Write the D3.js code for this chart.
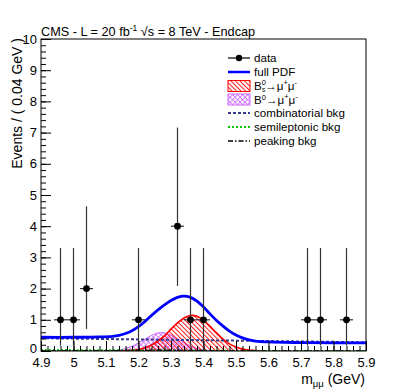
<!DOCTYPE html>
<html><head><meta charset="utf-8">
<script src="https://cdn.jsdelivr.net/npm/d3@7"></script>
<style>
html,body{margin:0;padding:0;background:#fff;}
text{font-family:"Liberation Sans",Arial,Helvetica,sans-serif;fill:#000;}
</style></head>
<body><svg id="c" width="407" height="391"></svg>
<script>
// ---- data ----
const dataMass = [4.96, 5.00, 5.04, 5.20, 5.32, 5.36, 5.40, 5.72, 5.76, 5.84];
const dataCount = [1, 1, 2, 1, 4, 1, 1, 1, 1, 1];
const dataErrLow = [0.827, 0.827, 1.292, 0.827, 1.914, 0.827, 0.827, 0.827, 0.827, 0.827];
const dataErrHigh = [2.3, 2.3, 2.638, 2.3, 3.162, 2.3, 2.3, 2.3, 2.3, 2.3];
const binHalfWidth = 0.02;

const fullMass = [4.90,5.00,5.08,5.12,5.14,5.16,5.18,5.20,5.22,5.24,5.26,5.28,5.30,5.32,5.34,5.36,5.38,5.40,5.42,5.44,5.46,5.48,5.50,5.52,5.54,5.56,5.60,5.70,5.80,5.90];
const fullVal  = [0.44,0.44,0.45,0.47,0.50,0.56,0.65,0.78,0.95,1.14,1.32,1.48,1.62,1.72,1.76,1.72,1.60,1.41,1.19,0.98,0.80,0.64,0.51,0.42,0.36,0.32,0.29,0.27,0.26,0.26];

const bsMass = [5.14,5.16,5.18,5.20,5.22,5.24,5.26,5.28,5.30,5.32,5.34,5.36,5.38,5.40,5.42,5.44,5.46,5.48,5.50,5.52,5.54,5.56,5.58];
const bsVal  = [0.00,0.01,0.02,0.05,0.10,0.19,0.32,0.49,0.70,0.90,1.06,1.14,1.11,0.98,0.79,0.58,0.38,0.23,0.13,0.06,0.03,0.01,0.00];

const bdMass = [5.10,5.12,5.14,5.16,5.18,5.20,5.22,5.24,5.26,5.28,5.30,5.32,5.34,5.36,5.38,5.40,5.42,5.44,5.46];
const bdVal  = [0.00,0.01,0.03,0.08,0.15,0.26,0.38,0.50,0.58,0.58,0.51,0.40,0.27,0.16,0.08,0.04,0.015,0.005,0.00];

const combMass = [4.90, 5.90];
const combVal  = [0.41, 0.28];
const semiMass = [4.90, 5.10, 5.30, 5.50, 5.90];
const semiVal  = [0.03, 0.02, 0.01, 0.00, 0.00];
const peakMass = [4.90, 5.15, 5.25, 5.30, 5.40, 5.50, 5.90];
const peakVal  = [0.00, 0.01, 0.02, 0.02, 0.01, 0.00, 0.00];

const xTickValues = [4.9,5.0,5.1,5.2,5.3,5.4,5.5,5.6,5.7,5.8,5.9];
const xTickLabels = ["4.9","5","5.1","5.2","5.3","5.4","5.5","5.6","5.7","5.8","5.9"];
const yTickValues = [0,1,2,3,4,5,6,7,8,9,10];
const yTickLabels = ["0","1","2","3","4","5","6","7","8","9","10"];

// ---- layout ----
const L = 41, R = 366, T = 39, B = 351;
const svg = d3.select("#c");
const x = d3.scaleLinear().domain([4.9, 5.9]).range([L, R]);
const y = d3.scaleLinear().domain([0, 10]).range([B, T]);

const defs = svg.append("defs");
defs.append("clipPath").attr("id","clip").append("rect")
  .attr("x",L).attr("y",T).attr("width",R-L).attr("height",B-T);
const pr = defs.append("pattern").attr("id","hatchRed").attr("patternUnits","userSpaceOnUse")
  .attr("width",3.2).attr("height",6).attr("patternTransform","rotate(-45)");
pr.append("line").attr("x1",0.5).attr("y1",0).attr("x2",0.5).attr("y2",6)
  .attr("stroke","#ff0000").attr("stroke-width",0.9);
const pm = defs.append("pattern").attr("id","hatchMag").attr("patternUnits","userSpaceOnUse")
  .attr("width",3.5).attr("height",3.5).attr("patternTransform","rotate(45)");
pm.append("line").attr("x1",0.5).attr("y1",0).attr("x2",0.5).attr("y2",3.5)
  .attr("stroke","#cc66ff").attr("stroke-width",0.8);
pm.append("line").attr("x1",0).attr("y1",0.5).attr("x2",3.5).attr("y2",0.5)
  .attr("stroke","#cc66ff").attr("stroke-width",0.8);

svg.append("rect").attr("width",407).attr("height",391).attr("fill","#fff");

const plot = svg.append("g").attr("clip-path","url(#clip)");
const zip = (a,b) => a.map((m,i)=>[m,b[i]]);
const line = d3.line().x(d=>x(d[0])).y(d=>y(d[1])).curve(d3.curveCatmullRom);
const area = d3.area().x(d=>x(d[0])).y0(y(0)).y1(d=>y(d[1])).curve(d3.curveCatmullRom);

// Bd component
plot.append("path").datum(zip(bdMass,bdVal)).attr("d",area).attr("fill","url(#hatchMag)");
plot.append("path").datum(zip(bdMass,bdVal)).attr("d",line).attr("fill","none")
  .attr("stroke","#cc66ff").attr("stroke-width",1);
// Bs component
plot.append("path").datum(zip(bsMass,bsVal)).attr("d",area).attr("fill","url(#hatchRed)");
plot.append("path").datum(zip(bsMass,bsVal)).attr("d",line).attr("fill","none")
  .attr("stroke","#ff0000").attr("stroke-width",1.6);
// backgrounds
plot.append("path").datum(zip(combMass,combVal)).attr("d",line).attr("fill","none")
  .attr("stroke","#3a3a8c").attr("stroke-width",2).attr("stroke-dasharray","3,2");
plot.append("path").datum(zip(semiMass,semiVal)).attr("d",line).attr("fill","none")
  .attr("stroke","#00cc00").attr("stroke-width",2.2).attr("stroke-dasharray","2,2");
plot.append("path").datum(zip(peakMass,peakVal)).attr("d",line).attr("fill","none")
  .attr("stroke","#000").attr("stroke-width",1.6).attr("stroke-dasharray","5,2,1.5,2");
// full PDF
plot.append("path").datum(zip(fullMass,fullVal)).attr("d",line).attr("fill","none")
  .attr("stroke","#0000ff").attr("stroke-width",2.8);

// data
const dg = svg.append("g");
dataMass.forEach((m,i)=>{
  const v = dataCount[i];
  dg.append("line").attr("x1",x(m)).attr("x2",x(m))
    .attr("y1",y(v-dataErrLow[i])).attr("y2",y(v+dataErrHigh[i]))
    .attr("stroke","#333").attr("stroke-width",1.2);
  dg.append("line").attr("x1",x(m-binHalfWidth)).attr("x2",x(m+binHalfWidth))
    .attr("y1",y(v)).attr("y2",y(v)).attr("stroke","#333").attr("stroke-width",1.2);
  dg.append("circle").attr("cx",x(m)).attr("cy",y(v)).attr("r",3.4).attr("fill","#000");
});

// axes
svg.append("g").attr("transform",`translate(0,${B})`)
  .call(d3.axisBottom(x).tickValues(xTickValues).tickFormat((d,i)=>xTickLabels[i])
    .tickSize(-10).tickPadding(7));
svg.append("g").attr("transform",`translate(0,${B})`)
  .call(d3.axisBottom(x).tickValues(d3.range(0,51).map(i=>4.9+i*0.02)).tickFormat("").tickSize(-5));
svg.append("g").attr("transform",`translate(${L},0)`)
  .call(d3.axisLeft(y).tickValues(yTickValues).tickFormat((d,i)=>yTickLabels[i])
    .tickSize(-10).tickPadding(4));
svg.append("g").attr("transform",`translate(${L},0)`)
  .call(d3.axisLeft(y).tickValues(d3.range(0,51).map(i=>i*0.2)).tickFormat("").tickSize(-5));
svg.selectAll(".domain").remove();
svg.selectAll(".tick line").attr("stroke","#000").attr("stroke-width",1);
svg.selectAll(".tick text").attr("font-size",13).attr("font-family","Liberation Sans, Arial, sans-serif");
svg.selectAll(".tick text").filter(function(){ return this.textContent === "0"; }).attr("dy","0.1em");

svg.append("rect").attr("x",L).attr("y",T).attr("width",R-L).attr("height",B-T)
  .attr("fill","none").attr("stroke","#000").attr("stroke-width",1);

// title
const tt = svg.append("text").attr("x",41).attr("y",36).attr("font-size",12.7);
tt.append("tspan").text("CMS - L = 20 fb");
tt.append("tspan").attr("font-size",8.5).attr("dy",-5).text("-1");
tt.append("tspan").attr("dy",5).text(" \u221As = 8 TeV - Endcap");

// axis titles
const xt = svg.append("text").attr("x",365).attr("y",383.5).attr("text-anchor","end").attr("font-size",14);
xt.append("tspan").text("m");
xt.append("tspan").attr("font-size",9.5).attr("dy",3).text("\u03BC\u03BC");
xt.append("tspan").attr("dy",-3).text(" (GeV)");
svg.append("text").attr("transform","translate(22,38) rotate(-90)").attr("text-anchor","end")
  .attr("font-size",14).text("Events / ( 0.04 GeV )");

// legend
const lg = svg.append("g");
const lx0 = 228, lx1 = 250, ltx = 254, fs = 11.6;
const rows = [58, 72, 86, 99.5, 113, 127, 141];
function label(yc, build){
  const t = lg.append("text").attr("x",ltx).attr("y",yc+4).attr("font-size",fs);
  build(t);
}
lg.append("line").attr("x1",lx0).attr("x2",lx1).attr("y1",rows[0]).attr("y2",rows[0]).attr("stroke","#000").attr("stroke-width",1.2);
lg.append("line").attr("x1",(lx0+lx1)/2).attr("x2",(lx0+lx1)/2).attr("y1",rows[0]-3).attr("y2",rows[0]+3).attr("stroke","#000");
lg.append("circle").attr("cx",(lx0+lx1)/2).attr("cy",rows[0]).attr("r",3.2);
label(rows[0], t=>t.text("data"));
lg.append("line").attr("x1",lx0).attr("x2",lx1).attr("y1",rows[1]).attr("y2",rows[1]).attr("stroke","#0000ff").attr("stroke-width",2.5);
label(rows[1], t=>t.text("full PDF"));
lg.append("rect").attr("x",lx0).attr("y",rows[2]-5.5).attr("width",lx1-lx0).attr("height",11)
  .attr("fill","url(#hatchRed)").attr("stroke","#ff0000").attr("stroke-width",1);
label(rows[2], t=>{
  t.append("tspan").text("B");
  t.append("tspan").attr("font-size",7.5).attr("dy",-5).text("0");
  t.append("tspan").attr("font-size",6.5).attr("dx",-4).attr("dy",6.5).text("s");
  t.append("tspan").attr("dy",-1.5).text("\u2192\u03BC");
  t.append("tspan").attr("font-size",7.5).attr("dy",-5).text("+");
  t.append("tspan").attr("dy",5).text("\u03BC");
  t.append("tspan").attr("font-size",7.5).attr("dy",-5).text("-");
});
lg.append("rect").attr("x",lx0).attr("y",rows[3]-5.5).attr("width",lx1-lx0).attr("height",11)
  .attr("fill","url(#hatchMag)").attr("stroke","#cc66ff").attr("stroke-width",1);
label(rows[3], t=>{
  t.append("tspan").text("B");
  t.append("tspan").attr("font-size",7.5).attr("dy",-4).text("0");
  t.append("tspan").attr("dy",4).text("\u2192\u03BC");
  t.append("tspan").attr("font-size",7.5).attr("dy",-5).text("+");
  t.append("tspan").attr("dy",5).text("\u03BC");
  t.append("tspan").attr("font-size",7.5).attr("dy",-5).text("-");
});
lg.append("line").attr("x1",lx0).attr("x2",lx1).attr("y1",rows[4]).attr("y2",rows[4]).attr("stroke","#3a3a8c").attr("stroke-width",2).attr("stroke-dasharray","3,2");
label(rows[4], t=>t.text("combinatorial bkg"));
lg.append("line").attr("x1",lx0).attr("x2",lx1).attr("y1",rows[5]).attr("y2",rows[5]).attr("stroke","#00cc00").attr("stroke-width",2.2).attr("stroke-dasharray","2,2");
label(rows[5], t=>t.text("semileptonic bkg"));
lg.append("line").attr("x1",lx0).attr("x2",lx1).attr("y1",rows[6]).attr("y2",rows[6]).attr("stroke","#000").attr("stroke-width",1.6).attr("stroke-dasharray","5,2,1.5,2");
label(rows[6], t=>t.text("peaking bkg"));
</script></body></html>
